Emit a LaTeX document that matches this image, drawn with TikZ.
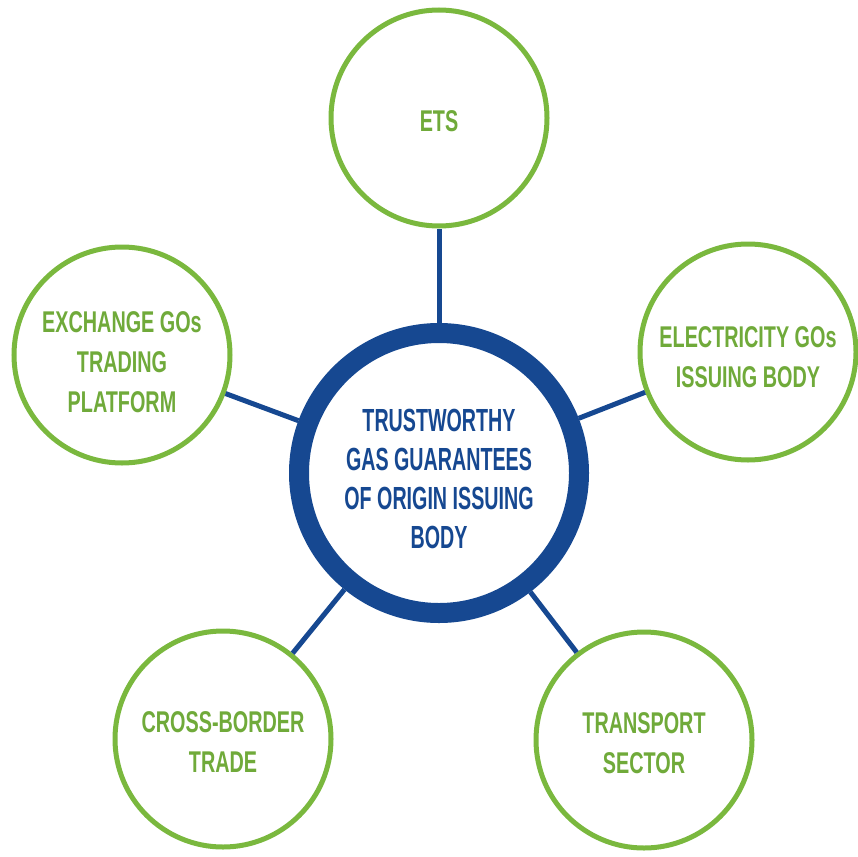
\documentclass[tikz,border=0pt]{standalone}
\usepackage{fontspec}
\newfontfamily\condb{Liberation Sans}[UprightFont=* Bold, FakeStretch=0.615]
\newfontfamily\condg{Liberation Sans}[UprightFont=* Bold, FakeStretch=0.66]
\definecolor{ggreen}{RGB}{122,184,62}
\definecolor{tgreen}{RGB}{112,170,58}
\definecolor{dblue}{RGB}{22,72,145}
\begin{document}
\begin{tikzpicture}[x=1pt,y=-1pt,
  hub/.style={circle,draw=dblue,line width=20pt,fill=white,minimum size=280pt,inner sep=0pt},
  sat/.style={circle,draw=ggreen,line width=5pt,fill=white,minimum size=216pt,inner sep=0pt},
  hubtxt/.style={text=dblue,align=center,inner sep=0pt,font=\condb\fontsize{32}{39}\selectfont},
  sattxt/.style={text=tgreen,align=center,inner sep=0pt,font=\condg\fontsize{30}{40}\selectfont},
  link/.style={draw=dblue,line width=5pt}]
\useasboundingbox (0,0) rectangle (858,856);
\node[hub] (c) at (439,473) {};
\node[sat] (ets) at (439,118) {};
\node[sat] (ex) at (122,355) {};
\node[sat] (el) at (748,352) {};
\node[sat] (cb) at (223,739) {};
\node[sat] (tr) at (644,740) {};
\foreach \n in {ets,ex,el,cb,tr} \draw[link] (c) -- (\n);
\node[hubtxt] (ct) at ([yshift=-6pt]c.center) {TRUSTWORTHY\\GAS GUARANTEES\\OF ORIGIN ISSUING\\BODY};
\node[sattxt] (etst) at ([yshift=-3pt]ets.center) {ETS};
\node[sattxt] (ext) at ([yshift=-7pt]ex.center) {EXCHANGE GOs\\TRADING\\PLATFORM};
\node[sattxt] (elt) at ([yshift=-5pt]el.center) {ELECTRICITY GOs\\ISSUING BODY};
\node[sattxt] (cbt) at ([yshift=-3pt]cb.center) {CROSS-BORDER\\TRADE};
\node[sattxt] (trt) at ([yshift=-3pt]tr.center) {TRANSPORT\\SECTOR};
\end{tikzpicture}
\end{document}
